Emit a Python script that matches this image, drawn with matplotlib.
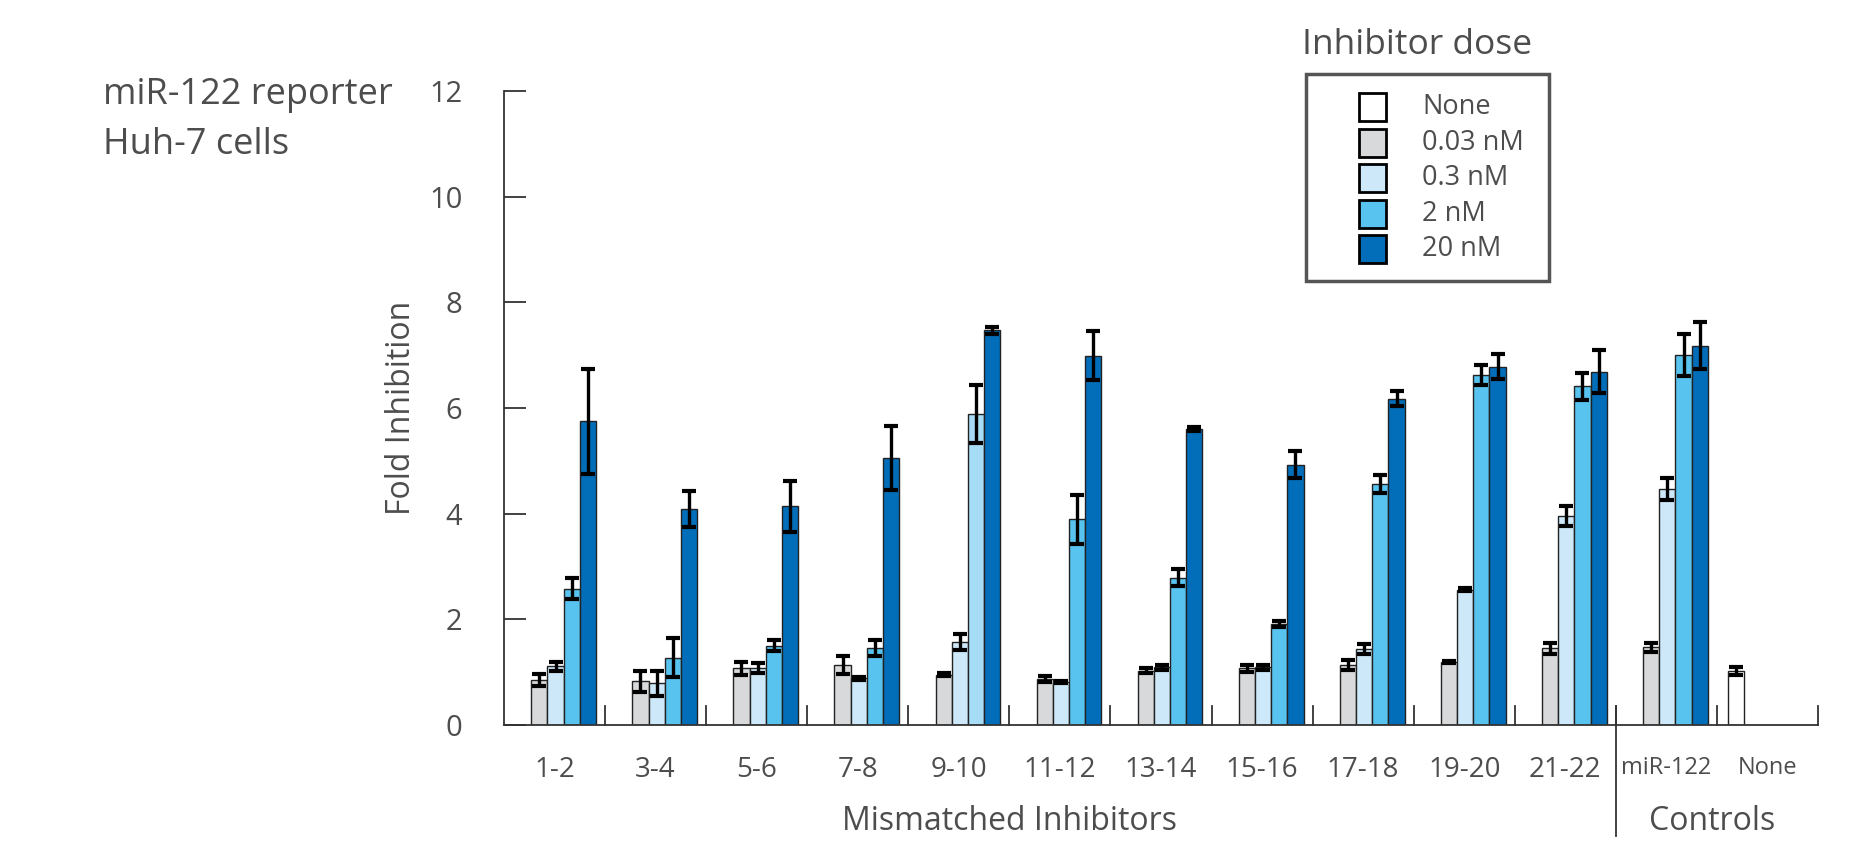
import numpy as np
import matplotlib
matplotlib.use('Agg')
import matplotlib.pyplot as plt
from matplotlib.patches import Rectangle

plt.rcParams['font.family'] = ['Open Sans', 'DejaVu Sans']

# Gruppi di inibitori e controlli
groups = ['1-2', '3-4', '5-6', '7-8', '9-10', '11-12', '13-14', '15-16',
          '17-18', '19-20', '21-22', 'miR-122', 'None']

nan = np.nan

# Fold inhibition per dose (media ed errore)
dose_none     = [nan]*12 + [1.02]
dose_none_err = [nan]*12 + [0.07]

dose_003     = [0.85, 0.83, 1.07, 1.13, 0.95, 0.87, 1.03, 1.07, 1.14, 1.20, 1.45, 1.47, nan]
dose_003_err = [0.11, 0.20, 0.12, 0.17, 0.03, 0.06, 0.05, 0.07, 0.09, 0.02, 0.10, 0.08, nan]

dose_03     = [1.11, 0.79, 1.08, 0.88, 1.57, 0.81, 1.09, 1.09, 1.44, 2.56, 3.96, 4.47, nan]
dose_03_err = [0.09, 0.24, 0.09, 0.03, 0.15, 0.02, 0.04, 0.04, 0.09, 0.03, 0.19, 0.21, nan]

dose_2     = [2.58, 1.27, 1.50, 1.45, 5.88, 3.89, 2.79, 1.91, 4.56, 6.63, 6.41, 7.01, nan]
dose_2_err = [0.20, 0.37, 0.10, 0.15, 0.55, 0.47, 0.16, 0.05, 0.17, 0.19, 0.25, 0.40, nan]

dose_20     = [5.75, 4.08, 4.14, 5.05, 7.47, 6.99, 5.61, 4.93, 6.18, 6.78, 6.69, 7.18, nan]
dose_20_err = [0.99, 0.34, 0.48, 0.61, 0.06, 0.46, 0.04, 0.25, 0.14, 0.24, 0.40, 0.44, nan]

dose_labels = ['None', '0.03 nM', '0.3 nM', '2 nM', '20 nM']
dose_colors = ['#ffffff', '#d8d9db', '#cde9f9', '#58c3ef', '#026db8']

series = [(dose_none, dose_none_err), (dose_003, dose_003_err), (dose_03, dose_03_err),
          (dose_2, dose_2_err), (dose_20, dose_20_err)]

txt = '#4d4d4d'

fig = plt.figure(figsize=(18.61, 8.43), dpi=100)
ax = fig.add_axes([0.2708, 0.1400, 0.7061, 0.7520])

x = np.arange(len(groups)) + 0.5
width = 0.16

for k, (vals, errs) in enumerate(series):
    pos = x + (k - 2) * width + 0.01
    colors = [dose_colors[k]] * len(groups)
    if k == 3:
        colors[4] = '#a6dcf6'   # barra 9-10 a 2 nM piu' chiara
    ax.bar(pos, vals, width=width, color=colors, edgecolor='#222222', linewidth=1.0, zorder=2)
    ax.errorbar(pos, vals, yerr=errs, fmt='none', ecolor='black', elinewidth=2.4,
                capsize=5, capthick=3.0, zorder=3)

ax.set_xlim(0, len(groups))
ax.set_ylim(0, 12)

for side in ['top', 'right']:
    ax.spines[side].set_visible(False)
for side in ['left', 'bottom']:
    ax.spines[side].set_color('#333333')
    ax.spines[side].set_linewidth(1.3)

ax.set_yticks(np.arange(0, 13, 2))
ax.tick_params(axis='y', direction='in', length=16, width=1.3, color='#333333',
               labelsize=21, labelcolor=txt, pad=30)

ax.set_xticks(x)
ax.set_xticklabels(groups)
ax.tick_params(axis='x', length=0, labelsize=20, labelcolor=txt, pad=22)
for lab in ax.get_xticklabels()[-2:]:
    lab.set_fontsize(17)

# Tacche di separazione tra i gruppi
for b in range(1, len(groups) + 1):
    ax.plot([b, b], [0, 0.35], color='#333333', lw=1.3, clip_on=False, zorder=1)
# Separatore controlli
ax.plot([11, 11], [0.35, -2.1], color='#333333', lw=1.3, clip_on=False)

ax.set_ylabel('Fold Inhibition', fontsize=23, color=txt, labelpad=8)

ax.text(5.0, -1.83, 'Mismatched Inhibitors', fontsize=23, color=txt, ha='center', va='center')
ax.text(11.95, -1.83, 'Controls', fontsize=23, color=txt, ha='center', va='center')

fig.text(103/1861, 1 - 95/843, 'miR-122 reporter', fontsize=26, color=txt, ha='left', va='center')
fig.text(103/1861, 1 - 145/843, 'Huh-7 cells', fontsize=26, color=txt, ha='left', va='center')

# Legenda
fig.text(1302/1861, 1 - 45/843, 'Inhibitor dose', fontsize=25.5, color=txt, ha='left', va='center')
fig.patches.append(Rectangle((1306/1861, 1 - 281/843), 243/1861, 207/843, transform=fig.transFigure,
                             fill=False, edgecolor='#555555', linewidth=2.5))
for k, (lab, col) in enumerate(zip(dose_labels, dose_colors)):
    yc = 107 + k * 35.6
    fig.patches.append(Rectangle((1359/1861, 1 - (yc + 14)/843), 27/1861, 28/843,
                                 transform=fig.transFigure, facecolor=col,
                                 edgecolor='black', linewidth=2.0))
    fig.text(1422/1861, 1 - yc/843, lab, fontsize=19.5, color=txt, ha='left', va='center')

plt.savefig('out.png', dpi=100)
